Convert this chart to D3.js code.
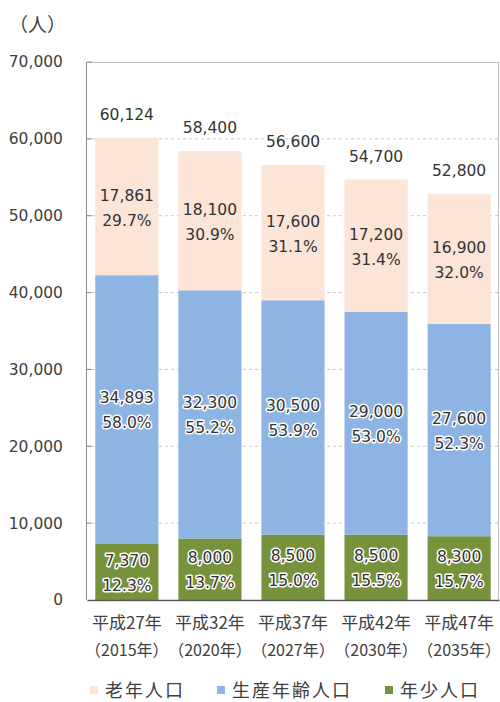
<!DOCTYPE html>
<html><head><meta charset="utf-8">
<script src="https://cdn.jsdelivr.net/npm/d3@7"></script>
<style>
html,body{margin:0;padding:0;background:#fff;}
svg{display:block;}
text{font-family:"DejaVu Sans","Noto Sans CJK JP",sans-serif;}
.jp{font-family:"Noto Sans CJK JP",sans-serif;}
</style></head>
<body>
<svg id="chart" width="500" height="702"></svg>
<script>
const categories = ["平成27年|（2015年）","平成32年|（2020年）","平成37年|（2027年）","平成42年|（2030年）","平成47年|（2035年）"];
const elderly = [17861, 18100, 17600, 17200, 16900];
const working = [34893, 32300, 30500, 29000, 27600];
const youth = [7370, 8000, 8500, 8500, 8300];
const totals = [60124, 58400, 56600, 54700, 52800];
const elderlyPct = ["29.7%","30.9%","31.1%","31.4%","32.0%"];
const workingPct = ["58.0%","55.2%","53.9%","53.0%","52.3%"];
const youthPct = ["12.3%","13.7%","15.0%","15.5%","15.7%"];
const yTicks = [0,10000,20000,30000,40000,50000,60000,70000];
const seriesNames = ["老年人口","生産年齢人口","年少人口"];
const colors = {elderly:"#FCE4D6", working:"#8DB4E2", youth:"#76933C"};

const svg = d3.select("#chart");
const L = 87, R = 499, T = 62, B = 600;
const x = d3.scaleBand().domain(categories).range([L, R]).paddingInner(0.24).paddingOuter(0.1);
const y = d3.scaleLinear().domain([0, 70000]).range([B, T]);
const fmt = d3.format(",");

// gridlines
svg.append("g").selectAll("line").data(yTicks.filter(d => d > 0 && d < 70000)).join("line")
  .attr("x1", L).attr("x2", R).attr("y1", d => y(d)).attr("y2", d => y(d))
  .attr("stroke", "#c8c8c8").attr("stroke-width", 1).attr("stroke-dasharray", "3,3");

// frame top/right
svg.append("line").attr("x1", L).attr("x2", R).attr("y1", T + 0.5).attr("y2", T + 0.5).attr("stroke", "#bfbfbf");
svg.append("line").attr("x1", R - 0.5).attr("x2", R - 0.5).attr("y1", T).attr("y2", B).attr("stroke", "#bfbfbf");

// stacked data
const rows = categories.map((c, i) => ({cat: c, i, youth: youth[i], working: working[i], elderly: elderly[i]}));
const stack = d3.stack().keys(["youth", "working", "elderly"])(rows);
const pcts = {youth: youthPct, working: workingPct, elderly: elderlyPct};

const g = svg.append("g");
stack.forEach(layer => {
  g.append("g").selectAll("rect").data(layer).join("rect")
    .attr("x", d => x(d.data.cat))
    .attr("width", x.bandwidth())
    .attr("y", d => y(d[1]))
    .attr("height", d => y(d[0]) - y(d[1]))
    .attr("fill", colors[layer.key]);
});

// y axis
const yAxis = d3.axisLeft(y).tickValues(yTicks).tickFormat(fmt).tickSize(0).tickPadding(24);
const ya = svg.append("g").attr("transform", `translate(${L},0)`).call(yAxis);
ya.select(".domain").remove();
ya.selectAll("text").attr("fill", "#404040").style("font-size", "15.5px");
// inner tick marks
svg.append("g").selectAll("line").data(yTicks.filter(d => d > 0)).join("line")
  .attr("x1", L).attr("x2", L + 5).attr("y1", d => y(d)).attr("y2", d => y(d))
  .attr("stroke", "#8c8c8c");
svg.append("line").attr("x1", L - 0.5).attr("x2", L - 0.5).attr("y1", T).attr("y2", B).attr("stroke", "#8c8c8c");
// bottom axis
const xAxis = d3.axisBottom(x).tickSize(0).tickFormat("");
const xa = svg.append("g").attr("transform", `translate(0,${B})`).call(xAxis);
xa.select(".domain").attr("stroke", "#595959").attr("stroke-width", 1.5);
const xl = svg.append("g");
categories.forEach(c => {
  const parts = c.split("|");
  const t = xl.append("text").attr("class", "jp").attr("text-anchor", "middle")
    .attr("fill", "#404040");
  t.append("tspan").attr("x", x(c) + x.bandwidth() / 2).attr("y", B + 29).style("font-size", "17px").text(parts[0]);
  t.append("tspan").attr("x", x(c) + x.bandwidth() / 2).attr("y", B + 56).style("font-size", "16px").text(parts[1]);
});

// segment labels
stack.forEach(layer => {
  layer.forEach((d, i) => {
    const cx = x(d.data.cat) + x.bandwidth() / 2;
    const cy = (y(d[0]) + y(d[1])) / 2;
    const t = svg.append("text").attr("text-anchor", "middle").attr("fill", "#333")
      .style("font-size", "15.5px");
    if (layer.key !== "elderly") {
      t.attr("stroke", "#fff").attr("stroke-width", 3).attr("paint-order", "stroke").attr("stroke-linejoin", "round");
    }
    t.append("tspan").attr("x", cx).attr("y", cy - 6).text(fmt(d.data[layer.key]));
    t.append("tspan").attr("x", cx).attr("y", cy + 19).text(pcts[layer.key][i]);
  });
});

// totals
svg.append("g").selectAll("text").data(rows).join("text")
  .attr("x", d => x(d.cat) + x.bandwidth() / 2)
  .attr("y", d => y(totals[d.i]) - 18)
  .attr("text-anchor", "middle").attr("fill", "#333").style("font-size", "15.5px")
  .text(d => fmt(totals[d.i]));

// unit label
svg.append("text").attr("class", "jp").attr("x", 9).attr("y", 32).attr("fill", "#404040")
  .style("font-size", "19px").text("（人）");

// legend
const legend = [
  {name: seriesNames[0], color: colors.elderly, x: 90},
  {name: seriesNames[1], color: colors.working, x: 217},
  {name: seriesNames[2], color: colors.youth, x: 385}
];
const lg = svg.append("g");
legend.forEach(d => {
  lg.append("rect").attr("x", d.x).attr("y", 686).attr("width", 8).attr("height", 8).attr("fill", d.color);
  lg.append("text").attr("class", "jp").attr("x", d.x + 15).attr("y", 697)
    .attr("fill", "#404040").style("font-size", "18px").style("letter-spacing", "2px").text(d.name);
});
</script>
</body></html>
